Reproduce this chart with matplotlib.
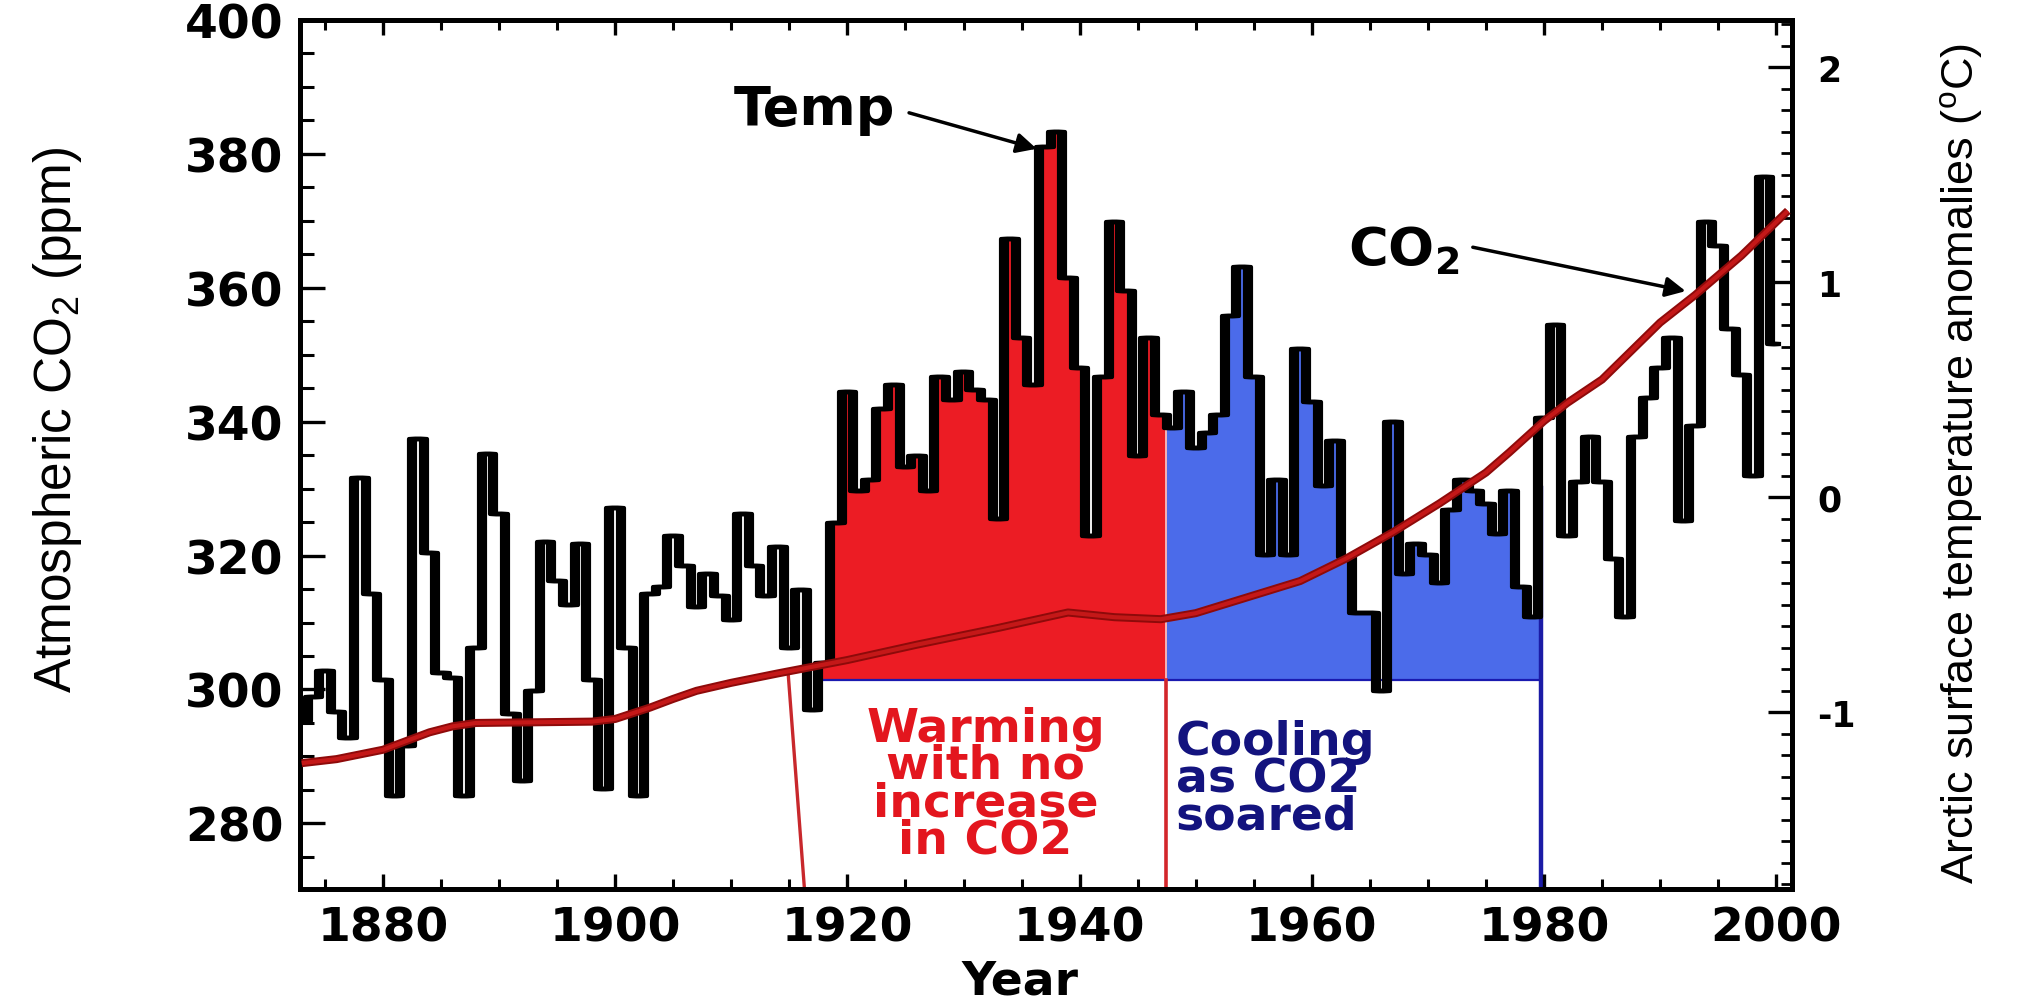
# Arctic temperature anomalies vs atmospheric CO2, 1873-2000
# Twin-axis chart: CO2 (ppm) on the left, Arctic temperature anomaly (degC) on the right.

import numpy as np
import matplotlib
matplotlib.use("Agg")
import matplotlib.pyplot as plt
from matplotlib.ticker import MultipleLocator
from matplotlib.transforms import offset_copy
from matplotlib.patches import Rectangle

plt.rcParams.update({
    'font.family': 'DejaVu Sans',
    'font.weight': 'bold',
    'axes.unicode_minus': False,
    'mathtext.default': 'regular',
})

# ── data ──────────────────────────────────────────────────────────────────────
temp_years = np.arange(1873, 2001)
temp_anom = [
    -1.04, -0.93, -0.81, -1.00, -1.12,  0.09, -0.45, -0.85, -1.39, -1.16,   # 1873-1882
     0.27, -0.26, -0.82, -0.84, -1.39, -0.70,  0.20, -0.08, -1.01, -1.32,   # 1883-1892
    -0.90, -0.21, -0.39, -0.50, -0.22, -0.85, -1.36, -0.05, -0.70, -1.39,   # 1893-1902
    -0.45, -0.42, -0.18, -0.32, -0.51, -0.36, -0.46, -0.57, -0.08, -0.32,   # 1903-1912
    -0.46, -0.23, -0.70, -0.43, -0.99, -0.77, -0.12,  0.49,  0.03,  0.08,   # 1913-1922
     0.41,  0.52,  0.14,  0.19,  0.03,  0.56,  0.45,  0.58,  0.50,  0.45,   # 1923-1932
    -0.10,  1.20,  0.74,  0.52,  1.63,  1.70,  1.02,  0.60, -0.18,  0.56,   # 1933-1942
     1.28,  0.96,  0.19,  0.74,  0.38,  0.32,  0.49,  0.23,  0.30,  0.38,   # 1943-1952
     0.84,  1.07,  0.56, -0.27,  0.08, -0.27,  0.69,  0.44,  0.05,  0.26,   # 1953-1962
    -0.28, -0.54, -0.54, -0.90,  0.35, -0.36, -0.22, -0.27, -0.40, -0.06,   # 1963-1972
     0.08,  0.03, -0.03, -0.17,  0.03, -0.42, -0.56,  0.37,  0.80, -0.18,   # 1973-1982
     0.07,  0.28,  0.07, -0.29, -0.56,  0.28,  0.46,  0.60,  0.74, -0.11,   # 1983-1992
     0.33,  1.28,  1.17,  0.78,  0.57,  0.10,  1.49,  0.71,                 # 1993-2000
]

co2_years = [1873, 1876, 1880, 1882, 1884, 1886, 1888, 1893, 1898, 1900, 1903,
             1905, 1907, 1910, 1914, 1920, 1926, 1933, 1939, 1943, 1947, 1950,
             1953, 1956, 1959, 1963, 1967, 1971, 1975, 1977, 1980, 1982, 1985,
             1990, 1993, 1997, 2001]
co2_ppm = [289.0, 289.6, 291.0, 292.3, 293.6, 294.5, 295.0, 295.1, 295.2, 295.6,
           297.3, 298.6, 299.8, 301.0, 302.4, 304.4, 306.7, 309.2, 311.5, 310.8,
           310.5, 311.4, 313.0, 314.6, 316.2, 319.6, 323.5, 327.8, 332.4, 335.4,
           340.1, 342.8, 346.3, 354.8, 358.9, 364.8, 371.5]

# periods marked on the chart
warm_start = 1917.6
warm_end = 1947.4
cool_end = 1979.7
baseline = -0.85          # degC level the shaded areas sit on
slant_years = [1914.9, 1916.3]

# ── colours ───────────────────────────────────────────────────────────────────
warm_color = '#EC1C24'
cool_color = '#4B6BEA'
warm_text = '#E3161E'
cool_text = '#13137E'
co2_dark = '#8E0A0A'
co2_light = '#C41818'

# ── axis limits ───────────────────────────────────────────────────────────────
year_lo, year_hi = 1872.85, 2001.36
co2_lo, co2_hi = 270.2, 400
temp_lo, temp_hi = -1.823, 2.219

W, H = 2033, 1003
fig = plt.figure(figsize=(W / 100, H / 100), dpi=100)
ax = fig.add_axes([300 / W, 1 - 890 / H, (1792 - 300) / W, (890 - 21) / H])
ax2 = ax.twinx()
ax.set_zorder(ax2.get_zorder() + 1)
ax.patch.set_visible(False)

ax.set_xlim(year_lo, year_hi)
ax.set_ylim(co2_lo, co2_hi)
ax2.set_ylim(temp_lo, temp_hi)

# ── shaded periods ────────────────────────────────────────────────────────────
upper = np.maximum(temp_anom, baseline)
periods = [(warm_start, warm_end, warm_color), (warm_end, cool_end, cool_color)]
for x0, x1, col in periods:
    band = ax2.fill_between(temp_years, baseline, upper, step='mid',
                            color=col, lw=0, zorder=1)
    band.set_clip_path(Rectangle((x0, temp_lo), x1 - x0, temp_hi - temp_lo,
                                 transform=ax2.transData))

# separators and baseline
ax2.plot([warm_start, cool_end], [baseline, baseline], color='#1A1AB0', lw=1.6, zorder=2)
ax2.plot([warm_end, warm_end], [baseline, np.interp(warm_end, temp_years, temp_anom)],
         color='#F6B4B4', lw=1.4, zorder=2)
ax2.plot([warm_end, warm_end], [temp_lo, baseline], color='#D3262B', lw=2.6, zorder=2)
ax2.plot([cool_end, cool_end], [temp_lo, 0.04], color='#1B1BA6', lw=3.2, zorder=2)
ax.plot(slant_years, [302.3, co2_lo], color='#C8282C', lw=2.4, zorder=2)

# ── temperature curve (vertical strokes thicker, like the stretched original) ──
for dx in np.linspace(-3, 3, 7):
    tr = offset_copy(ax2.transData, fig=fig, x=dx, y=0, units='dots')
    ax2.plot(temp_years, temp_anom, color='black', lw=3.0, drawstyle='steps-mid',
             transform=tr, zorder=3)

# ── CO2 curve ─────────────────────────────────────────────────────────────────
ax.plot(co2_years, co2_ppm, color=co2_dark, lw=5.8, solid_capstyle='butt',
        solid_joinstyle='round', zorder=4)
ax.plot(co2_years, co2_ppm, color=co2_light, lw=3.0, solid_capstyle='butt',
        solid_joinstyle='round', zorder=5)

# ── ticks ─────────────────────────────────────────────────────────────────────
ax.xaxis.set_major_locator(MultipleLocator(20))
ax.xaxis.set_minor_locator(MultipleLocator(5))
ax.yaxis.set_minor_locator(MultipleLocator(5))
ax2.yaxis.set_minor_locator(MultipleLocator(0.1))
ax.set_yticks(np.arange(280, 401, 20))
ax2.set_yticks([-1, 0, 1, 2])

ax.tick_params(axis='y', which='major', direction='in', length=18, width=2.4,
               labelsize=34, pad=12)
ax.tick_params(axis='y', which='minor', direction='in', length=10, width=2.2)
ax.tick_params(axis='x', which='major', direction='in', length=11, width=2.4,
               top=True, labelsize=34, pad=12)
ax.tick_params(axis='x', which='minor', direction='in', length=7, width=2.2, top=True)
ax2.tick_params(axis='y', which='major', direction='in', length=17, width=2.4,
                labelsize=25, pad=18)
ax2.tick_params(axis='y', which='minor', direction='in', length=8, width=2.0)

for a in (ax, ax2):
    for side in ('left', 'right', 'top', 'bottom'):
        a.spines[side].set_linewidth(3.6)

# ── axis titles ───────────────────────────────────────────────────────────────
narrow = ['Liberation Sans', 'DejaVu Sans']
fig.text(58 / W, 1 - 420 / H, 'Atmospheric CO$_2$ (ppm)', rotation=90,
         ha='center', va='center', fontsize=37, fontweight='normal', family=narrow)
fig.text(1962 / W, 1 - 464 / H, 'Arctic surface temperature anomalies ($^o$C)',
         rotation=90, ha='center', va='center', fontsize=32.5, fontweight='normal',
         family=narrow)
fig.text(1020 / W, 1 - 960 / H, 'Year', ha='center', va='top', fontsize=34)

# ── annotations ───────────────────────────────────────────────────────────────
ax2.annotate('Temp', xy=(1936.3, 1.62), xytext=(1917.2, 1.805),
             ha='center', va='center', fontsize=39,
             arrowprops=dict(arrowstyle='-|>', color='black', lw=2.5,
                             mutation_scale=30, relpos=(1.0, 0.5), shrinkA=8, shrinkB=0))
ax.annotate('CO$_2$', xy=(1992.2, 359.5), xytext=(1963.1, 363.4),
            ha='left', va='baseline', fontsize=39,
            arrowprops=dict(arrowstyle='-|>', color='black', lw=2.5,
                            mutation_scale=30, relpos=(1.0, 0.6), shrinkA=8, shrinkB=0))

ax2.text(1931.9, -1.335, 'Warming\nwith no\nincrease\nin CO2', color=warm_text,
         ha='center', va='center', fontsize=34, linespacing=0.78, zorder=6)
ax2.text(1948.3, -1.31, 'Cooling\nas CO2\nsoared', color=cool_text,
         ha='left', va='center', fontsize=34, linespacing=0.78, zorder=6)

plt.savefig('out.png', dpi=100)
plt.close()
